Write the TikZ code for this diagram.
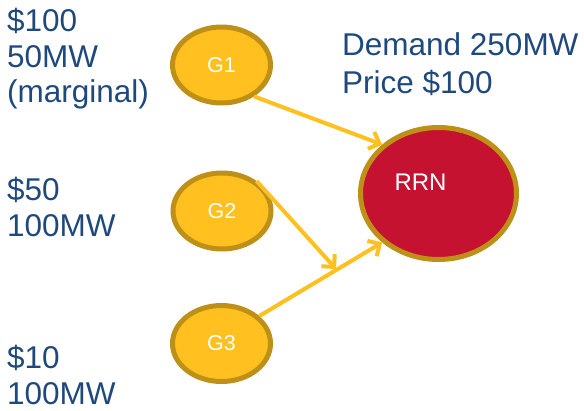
\documentclass[tikz,border=0pt]{standalone}
\usepackage{fontspec}
\setmainfont{Liberation Sans}
\usetikzlibrary{shapes.geometric,arrows.meta}
\definecolor{txtblue}{HTML}{1F497D}
\definecolor{genfill}{HTML}{FFC020}
\definecolor{genedge}{HTML}{BF9018}
\definecolor{nodered}{HTML}{C41230}
\definecolor{flow}{HTML}{FFC020}
\tikzset{
  gen/.style={ellipse, draw=genedge, fill=genfill, line width=5pt, inner sep=0pt,
    minimum width=98pt, minimum height=76pt, text=white,
    font=\fontsize{21.5}{24}\selectfont},
  region/.style={ellipse, draw=genedge, fill=nodered, line width=5pt, inner sep=0pt,
    minimum width=156pt, minimum height=132pt},
  info/.style={text=txtblue, align=left, inner sep=0pt,
    font=\fontsize{31.5}{35.5}\selectfont},
  flowarrow/.style={draw=flow, line width=4pt,
    -{Straight Barb[length=9pt,width=18pt]}},
}
\begin{document}
\begin{tikzpicture}[x=1pt,y=-1pt]
\useasboundingbox (0,0) rectangle (584,410);

% generators and the regional node
\node[gen] (g1) at (221.5,65) {G1};
\node[gen] (g2) at (222,211) {G2};
\node[gen] (g3) at (221.5,343.5) {G3};
\node[region, label={[text=white, font=\fontsize{24}{28}\selectfont,
  xshift=-18pt, yshift=11.5pt]center:RRN}] (rrn) at (438.5,193.5) {};

% offer stacks (anchored at the baseline of their last line)
\node[info, anchor=base west] (o1) at (7,102.5) {\$100\\50MW\\(marginal)};
\node[info, anchor=base west] (o2) at (7,236) {\$50\\100MW};
\node[info, anchor=base west] (o3) at (7,404) {\$10\\100MW};
\node[info, anchor=base west, font=\fontsize{31.5}{38}\selectfont] (dem) at (342,93)
  {Demand 250MW\\Price \$100};

% dispatch flows
\coordinate (mid) at (336,269);
\draw[flowarrow] (g1.-44) -- (rrn.139);
\draw[flowarrow] (g2.41) -- (mid);
\draw[flowarrow] (g3.36) -- (rrn.221);
\end{tikzpicture}
\end{document}
